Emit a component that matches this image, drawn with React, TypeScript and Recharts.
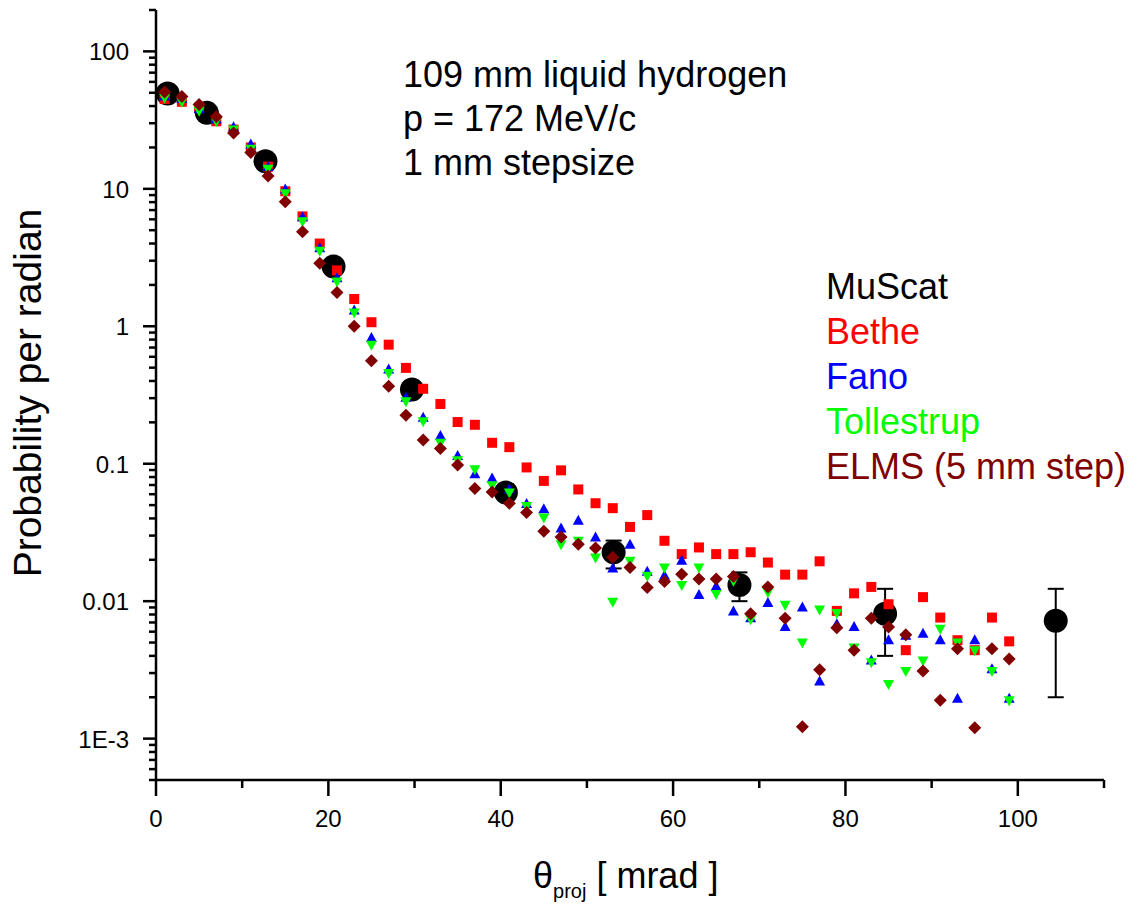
import { ScatterChart, Scatter, XAxis, YAxis, ErrorBar } from "recharts";

const FONT = '"Liberation Sans", Arial, sans-serif';

// simulated angles, mrad
const simTheta = [
  1, 3, 5, 7, 9, 11, 13, 15, 17, 19, 21, 23, 25, 27, 29, 31, 33, 35, 37, 39, 41, 43, 45, 47, 49,
  51, 53, 55, 57, 59, 61, 63, 65, 67, 69, 71, 73, 75, 77, 79, 81, 83, 85, 87, 89, 91, 93, 95, 97, 99,
];

const betheValues = [
  45, 43, 39, 31, 27, 20, 14.5, 9.6, 6.3, 4.0, 2.55, 1.58, 1.07, 0.735, 0.498, 0.351, 0.272, 0.201,
  0.192, 0.142, 0.132, 0.094, 0.075, 0.0895, 0.065, 0.0516, 0.0475, 0.0347, 0.0423, 0.0275, 0.022,
  0.0246, 0.022, 0.022, 0.0227, 0.0191, 0.0156, 0.0156, 0.0195, 0.0085, 0.0114, 0.0127, 0.0095,
  0.0044, 0.0107, 0.0076, 0.0052, 0.0044, 0.0076, 0.0051,
];

const fanoValues = [
  47, 45, 38, 32, 28, 21, 14.4, 9.9, 6.2, 3.7, 2.24, 1.3, 0.82, 0.484, 0.302, 0.216, 0.159, 0.114,
  0.084, 0.078, 0.065, 0.051, 0.0466, 0.0338, 0.0384, 0.029, 0.0173, 0.0257, 0.0164, 0.0153, 0.0197,
  0.0111, 0.0128, 0.0084, 0.0075, 0.0097, 0.0065, 0.009, 0.0026, 0.0068, 0.0065, 0.0037, 0.0052,
  0.0056, 0.0058, 0.0052, 0.00195, 0.0052, 0.0032, 0.00195,
];

const tollestrupValues = [
  46, 43, 37, 31, 27, 19.6, 14, 9.3, 5.8, 3.55, 2.12, 1.26, 0.735, 0.458, 0.285, 0.204, 0.142, 0.106,
  0.091, 0.0697, 0.0617, 0.0493, 0.0406, 0.026, 0.0275, 0.0208, 0.0099, 0.0197, 0.0153, 0.0176,
  0.0131, 0.0176, 0.0113, 0.0141, 0.0074, 0.0116, 0.0094, 0.005, 0.0087, 0.0082, 0.0046, 0.0036,
  0.0025, 0.0031, 0.0037, 0.0063, 0.005, 0.0044, 0.0031, 0.0019,
];

const elmsValues = [
  50.7, 47, 41, 33.4, 25.5, 18.4, 12.4, 8.06, 4.88, 2.88, 1.76, 1.0, 0.562, 0.366, 0.225, 0.149,
  0.129, 0.098, 0.066, 0.0623, 0.0516, 0.0441, 0.0322, 0.0293, 0.026, 0.0244, 0.0209, 0.0176, 0.0126,
  0.0139, 0.0157, 0.0145, 0.0145, 0.0151, 0.0081, 0.0127, 0.0075, 0.00122, 0.00317, 0.0064, 0.0044,
  0.0075, 0.0065, 0.0057, 0.0031, 0.0019, 0.0045, 0.0012, 0.0045, 0.0038,
];

// MuScat measurement
const muTheta = [1.35, 5.9, 12.7, 20.6, 29.7, 40.6, 53.1, 67.7, 84.6, 104.4];
const muValues = [49.3, 35.7, 15.9, 2.72, 0.347, 0.0617, 0.0227, 0.0131, 0.0081, 0.0072];
const muLow = [49.3, 35.7, 15.9, 2.72, 0.32, 0.054, 0.0173, 0.01, 0.004, 0.002];
const muHigh = [49.3, 35.7, 15.9, 2.72, 0.375, 0.071, 0.0276, 0.0162, 0.0123, 0.0123];

const xTicks = [0, 10, 20, 30, 40, 50, 60, 70, 80, 90, 100, 110];
const xLabelled = [0, 20, 40, 60, 80, 100];
const yDecades = [0.001, 0.01, 0.1, 1, 10, 100];
const yDecadeLabels = ["1E-3", "0.01", "0.1", "1", "10", "100"];
const yMinorMult = [2, 3, 4, 5, 6, 7, 8, 9];

const legendItems = [
  { name: "MuScat", color: "#000000" },
  { name: "Bethe", color: "#ff0000" },
  { name: "Fano", color: "#0000ff" },
  { name: "Tollestrup", color: "#00ff00" },
  { name: "ELMS (5 mm step)", color: "#800000" },
];

const yTicks: number[] = [0.0005];
[0.0001, 0.001, 0.01, 0.1, 1, 10, 100].forEach((d) => {
  if (d >= 0.001) yTicks.push(d);
  yMinorMult.forEach((m) => {
    const v = +(d * m).toPrecision(3);
    if (v > 0.0005 && v <= 200) yTicks.push(v);
  });
});

const toPoints = (xs: number[], ys: number[]) => xs.map((x, i) => ({ x, y: ys[i] }));

const muData = muTheta.map((x, i) => ({
  x,
  y: muValues[i],
  err: [muValues[i] - muLow[i], muHigh[i] - muValues[i]],
}));

const XTick = (props: any) => {
  const { x, y, payload } = props;
  const major = xLabelled.includes(payload.value);
  return (
    <g>
      <line x1={x} x2={x} y1={y} y2={y + (major ? 16 : 8)} stroke="#000" strokeWidth={2.5} />
      {major && (
        <text x={x} y={y + 47} textAnchor="middle" fontSize={24} fontFamily={FONT} fill="#000">
          {payload.value}
        </text>
      )}
    </g>
  );
};

const YTick = (props: any) => {
  const { x, y, payload } = props;
  const idx = yDecades.findIndex((d) => Math.abs(d - payload.value) / d < 1e-6);
  const major = idx >= 0;
  return (
    <g>
      <line x1={x} x2={x - (major ? 13 : 7)} y1={y} y2={y} stroke="#000" strokeWidth={2.5} />
      {major && (
        <text x={x - 27} y={y + 9} textAnchor="end" fontSize={24} fontFamily={FONT} fill="#000">
          {yDecadeLabels[idx]}
        </text>
      )}
    </g>
  );
};

const square = (p: any) => <rect x={p.cx - 5} y={p.cy - 5} width={10} height={10} fill="#ff0000" />;
const triUp = (p: any) => (
  <polygon points={`${p.cx},${p.cy - 6} ${p.cx - 5.5},${p.cy + 4} ${p.cx + 5.5},${p.cy + 4}`} fill="#0000ff" />
);
const triDown = (p: any) => (
  <polygon points={`${p.cx},${p.cy + 6} ${p.cx - 5.5},${p.cy - 4} ${p.cx + 5.5},${p.cy - 4}`} fill="#00ff00" />
);
const diamond = (p: any) => (
  <polygon
    points={`${p.cx},${p.cy - 6.5} ${p.cx + 6.5},${p.cy} ${p.cx},${p.cy + 6.5} ${p.cx - 6.5},${p.cy}`}
    fill="#800000"
  />
);
const bigDot = (p: any) => <circle cx={p.cx} cy={p.cy} r={12} fill="#000" />;

export default function App() {
  return (
    <div style={{ position: "absolute", left: 0, top: 0, width: 1134, height: 905, background: "#fff" }}>
      <ScatterChart width={1134} height={905} margin={{ top: 10, right: 30, bottom: 65, left: 0 }}>
        <XAxis
          type="number"
          dataKey="x"
          domain={[0, 110]}
          ticks={xTicks}
          interval={0}
          tickSize={0}
          tickMargin={0}
          tickLine={false}
          tick={<XTick />}
          axisLine={{ stroke: "#000", strokeWidth: 2.5 }}
          height={60}
        />
        <YAxis
          type="number"
          dataKey="y"
          scale="log"
          domain={[0.0005, 200]}
          allowDataOverflow
          ticks={yTicks}
          interval={0}
          tickSize={0}
          tickMargin={0}
          tickLine={false}
          tick={<YTick />}
          axisLine={{ stroke: "#000", strokeWidth: 2.5 }}
          width={156}
        />
        <Scatter data={muData} shape={bigDot} isAnimationActive={false}>
          <ErrorBar dataKey="err" direction="y" width={8} stroke="#000" strokeWidth={2} />
        </Scatter>
        <Scatter data={toPoints(simTheta, betheValues)} shape={square} isAnimationActive={false} />
        <Scatter data={toPoints(simTheta, fanoValues)} shape={triUp} isAnimationActive={false} />
        <Scatter data={toPoints(simTheta, tollestrupValues)} shape={triDown} isAnimationActive={false} />
        <Scatter data={toPoints(simTheta, elmsValues)} shape={diamond} isAnimationActive={false} />
      </ScatterChart>
      <svg
        width={1134}
        height={905}
        style={{ position: "absolute", left: 0, top: 0, pointerEvents: "none" }}
        fontFamily={FONT}
      >
        <text x={403} y={87} fontSize={36} fill="#000">109 mm liquid hydrogen</text>
        <text x={403} y={131} fontSize={36} fill="#000">p = 172 MeV/c</text>
        <text x={403} y={175} fontSize={36} fill="#000">1 mm stepsize</text>
        {legendItems.map((item, i) => (
          <text key={item.name} x={826} y={299 + i * 45} fontSize={36} fill={item.color}>
            {item.name}
          </text>
        ))}
        <text
          x={41}
          y={393}
          fontSize={39}
          fill="#000"
          textAnchor="middle"
          transform="rotate(-90, 41, 393)"
        >
          Probability per radian
        </text>
        <text x={533} y={888} fontSize={36} fill="#000" xmlSpace="preserve">
          θ<tspan dy={10} fontSize={20}>proj</tspan>
          <tspan dy={-10}> [ mrad ]</tspan>
        </text>
      </svg>
    </div>
  );
}
